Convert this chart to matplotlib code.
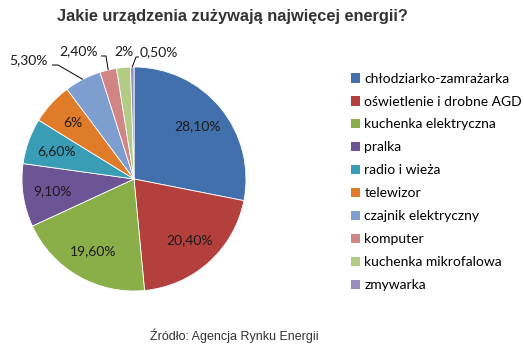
import numpy as np
import matplotlib
matplotlib.use("Agg")
import matplotlib.pyplot as plt
from matplotlib.patches import Patch

title = "Jakie urządzenia zużywają najwięcej energii?"
source = "Źródło: Agencja Rynku Energii"
categories = ["chłodziarko-zamrażarka", "oświetlenie i drobne AGD", "kuchenka elektryczna",
              "pralka", "radio i wieża", "telewizor", "czajnik elektryczny", "komputer",
              "kuchenka mikrofalowa", "zmywarka"]
values = [28.1, 20.4, 19.6, 9.1, 6.6, 6.0, 5.3, 2.4, 2.0, 0.5]
labels = ["28,10%", "20,40%", "19,60%", "9,10%", "6,60%", "6%", "5,30%", "2,40%", "2%", "0,50%"]
colors = ["#4270AC", "#B3403D", "#8AAE48", "#6D5495", "#3A9DB6", "#E07B29",
          "#7E9ECF", "#D18584", "#B2CC85", "#9A8DBD"]

W, H = 524, 353
fig = plt.figure(figsize=(W/100, H/100), dpi=100)
fig.patch.set_facecolor("white")

R = 112.0
cx, cy = 134, H - 179
half = 150
ax = fig.add_axes([(cx-half)/W, (cy-half)/H, 2*half/W, 2*half/H])

wedges, _ = ax.pie(values, colors=colors, startangle=90, counterclock=False,
                   radius=1.0, wedgeprops=dict(edgecolor="white", linewidth=0.6))
lim = half / R
ax.set_xlim(-lim, lim)
ax.set_ylim(-lim, lim)
ax.set_aspect("equal")
ax.axis("off")

lab_font = "Lato"
inside = 6
for i, w in enumerate(wedges):
    ang = np.deg2rad((w.theta1 + w.theta2) / 2)
    if i < inside:
        r = 0.74
        ax.text(r*np.cos(ang), r*np.sin(ang), labels[i], ha="center", va="center",
                fontsize=10, family=lab_font, color="#1a1a1a")

def px(x, y):
    # pixel (from top-left) -> data units
    return ((x - cx) / R, ((H - y) - cy) / R)

# outside labels: text position, leader path (pixels)
out_specs = {
    6: ((28, 60), [(52, 65), (58, 65)]),
    7: ((79, 51), [(101, 56), (106, 56)]),
    8: ((124, 52), None),
    9: ((159, 52), [(139, 57), (136, 57)]),
}
for i, (tpos, path) in out_specs.items():
    tx, ty = px(*tpos)
    ax.text(tx, ty, labels[i], ha="center", va="center", fontsize=10,
            family=lab_font, color="#1a1a1a")
    if path is not None:
        w = wedges[i]
        ang = np.deg2rad((w.theta1 + w.theta2) / 2)
        ex, ey = np.cos(ang), np.sin(ang)
        pts = [px(*p) for p in path] + [(ex, ey)]
        ax.plot([p[0] for p in pts], [p[1] for p in pts], color="black", lw=0.7,
                solid_capstyle="butt", clip_on=False)

fig.text(232/W, 1 - 16/H, title, ha="center", va="center", fontsize=11.8,
         fontweight="bold", family="Liberation Sans", color="#333333")
fig.text(234/W, 1 - 336/H, source, ha="center", va="center", fontsize=9,
         family="Liberation Sans", color="#333333")

handles = [Patch(facecolor=c, edgecolor="none") for c in colors]
fig.legend(handles, categories, loc="upper left", bbox_to_anchor=(345/W, 1 - 67/H),
           frameon=False, prop=dict(family=lab_font, size=10),
           handlelength=0.7, handleheight=0.7, handletextpad=0.3,
           labelspacing=0.79, borderaxespad=0)

fig.savefig("out.png", dpi=100)
